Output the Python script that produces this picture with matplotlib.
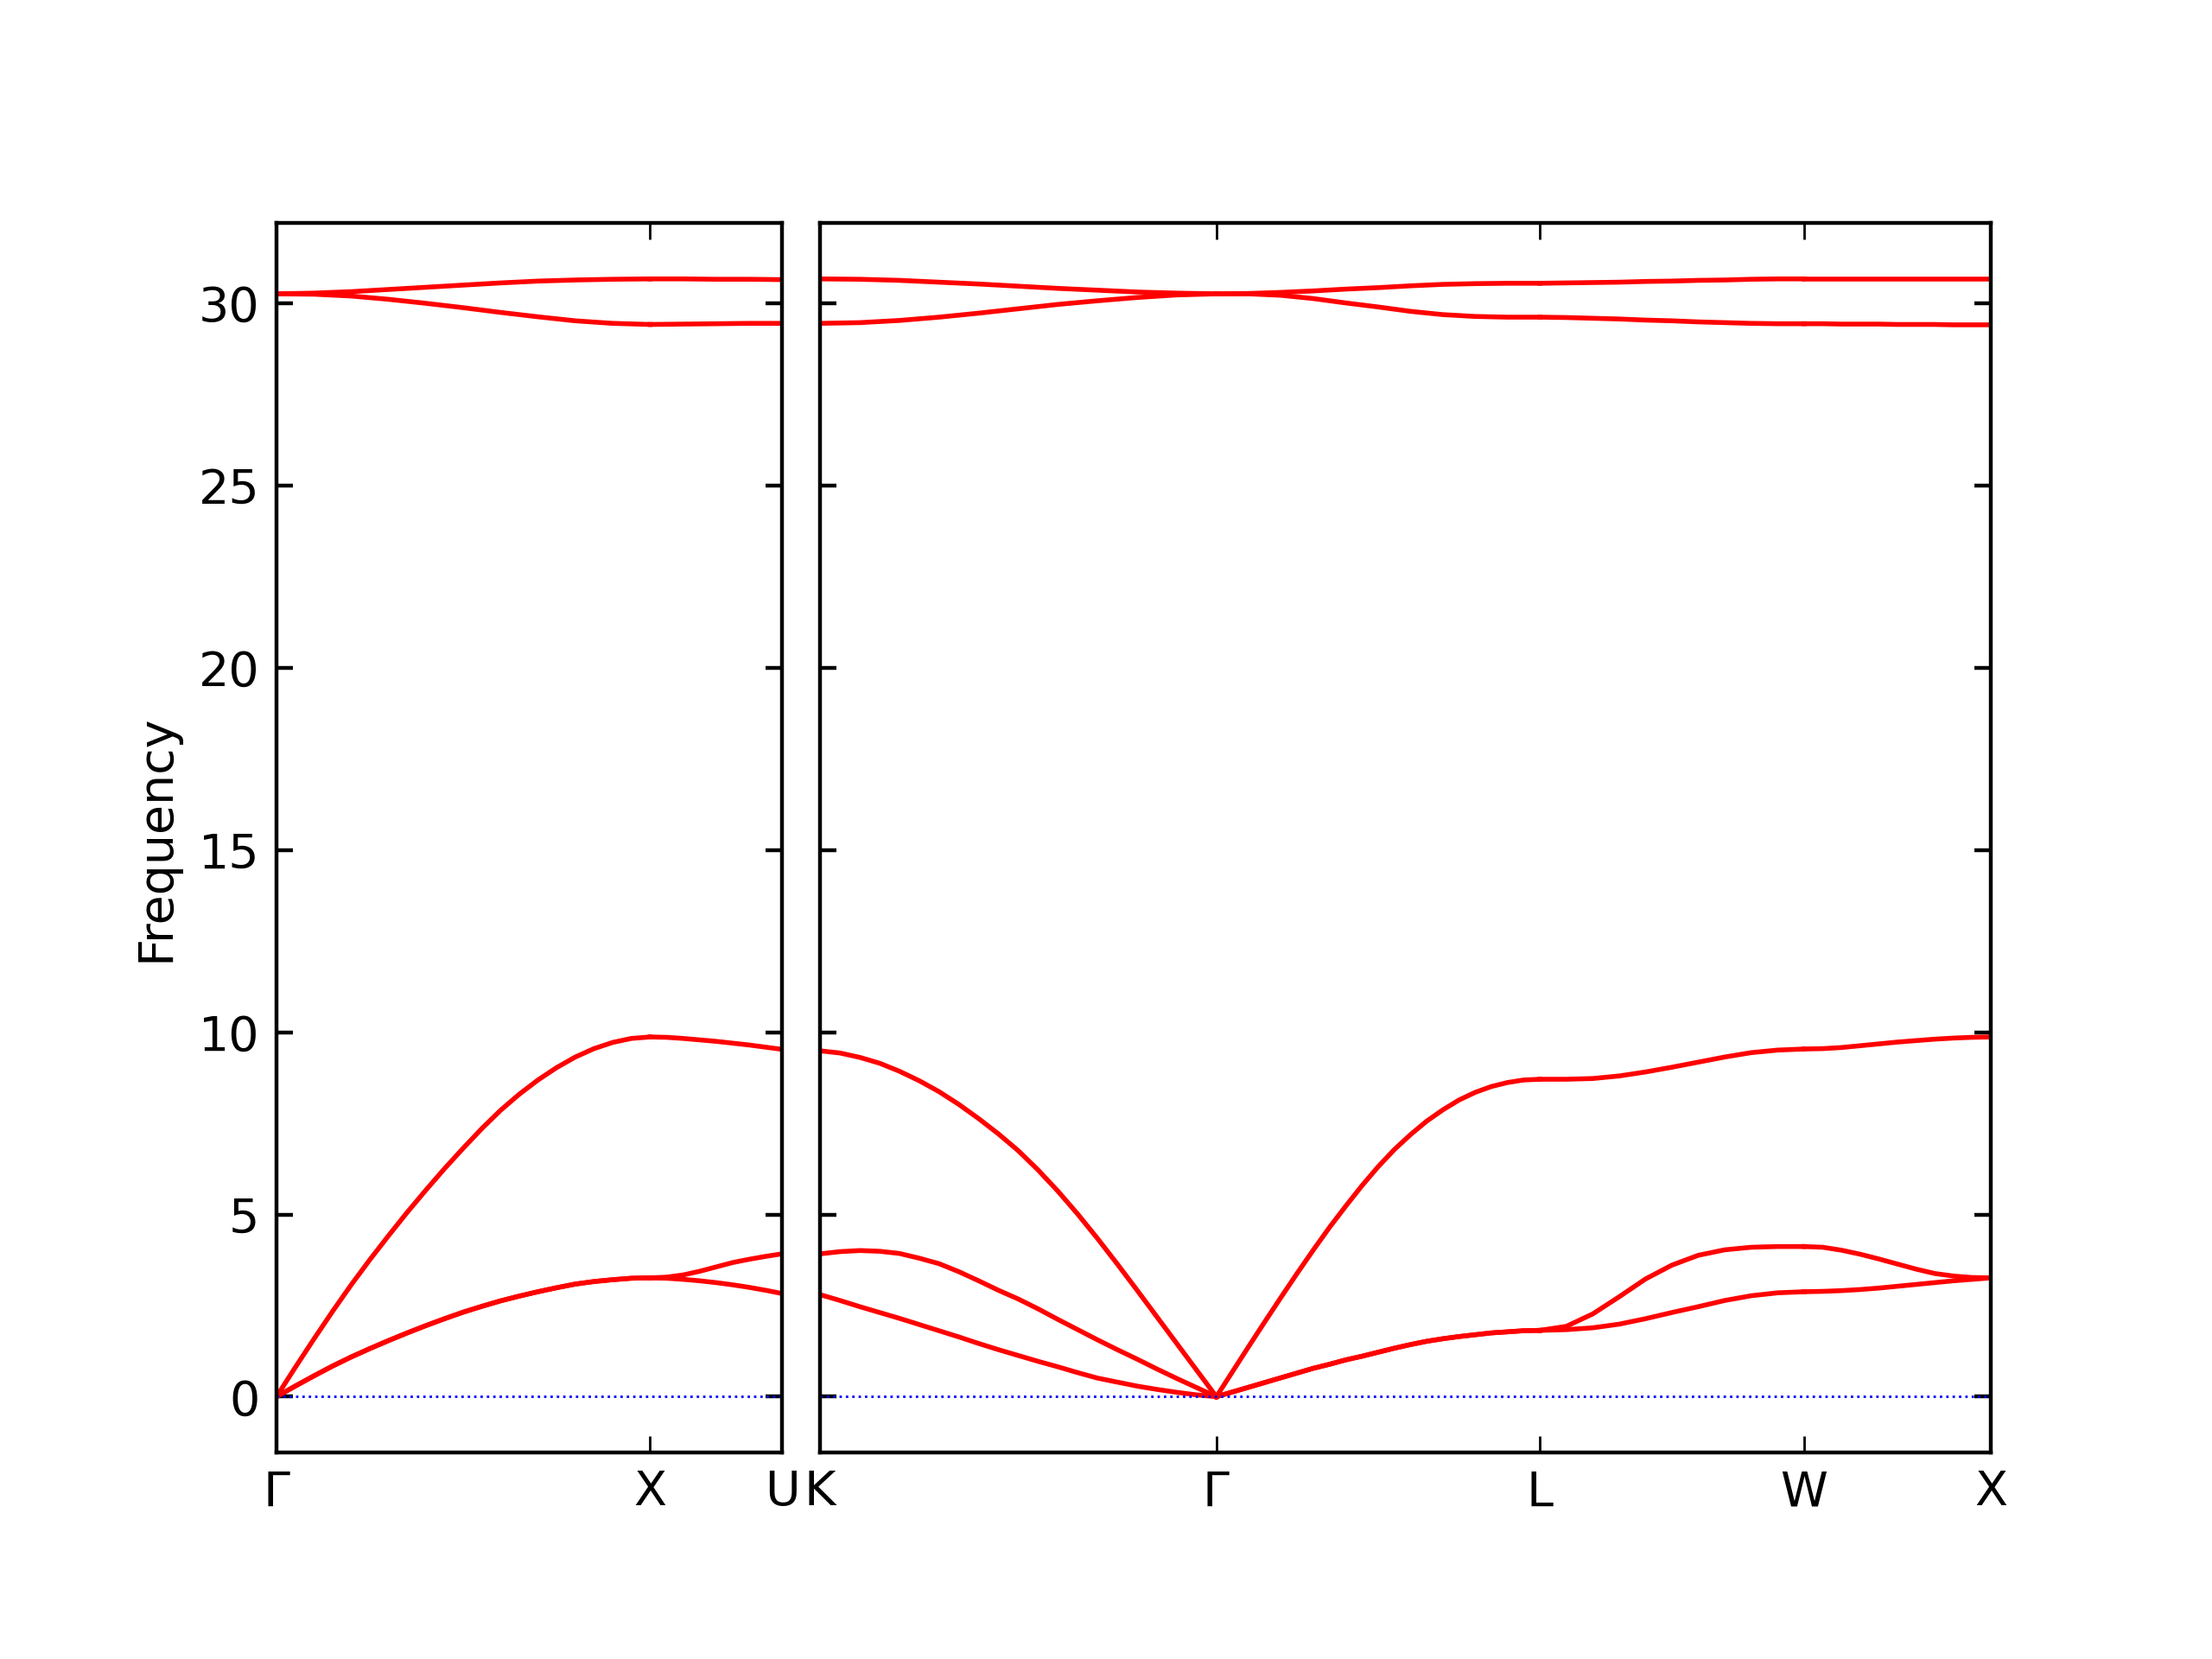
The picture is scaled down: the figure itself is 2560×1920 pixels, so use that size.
import numpy as np
import matplotlib.pyplot as plt

# k-path segment lengths: G-X, X-U | K-G, G-L, L-W, W-X
seg_len = [1.0, 0.3536, 1.0607, 0.8660, 0.7071, 0.5]
left_labels = ["$\\Gamma$", "X", "U"]
right_labels = ["K", "$\\Gamma$", "L", "W", "X"]

# G-X (21 pts)
gx_ta = [0, 0.29, 0.57, 0.84, 1.09, 1.32, 1.54, 1.75, 1.95, 2.14, 2.32,
         2.48, 2.63, 2.76, 2.88, 2.99, 3.09, 3.16, 3.21, 3.25, 3.26]
gx_la = [0, 0.80, 1.58, 2.34, 3.07, 3.76, 4.42, 5.06, 5.67, 6.26, 6.82,
         7.36, 7.86, 8.30, 8.69, 9.03, 9.32, 9.55, 9.72, 9.83, 9.87]
gx_to_lo = [30.26, 30.25, 30.20, 30.11, 30.00, 29.88, 29.75, 29.63, 29.52, 29.45, 29.42]
gx_to_hi = [30.26, 30.28, 30.32, 30.38, 30.44, 30.50, 30.56, 30.61, 30.64, 30.66, 30.67]

# X-U (9 pts)
xu_ta_lo = [3.26, 3.25, 3.22, 3.18, 3.13, 3.07, 3.00, 2.92, 2.83]
xu_ta_hi = [3.26, 3.28, 3.34, 3.44, 3.56, 3.68, 3.77, 3.85, 3.92]
xu_la = [9.87, 9.86, 9.83, 9.79, 9.75, 9.70, 9.65, 9.59, 9.53]
xu_to_lo = [29.42, 29.43, 29.44, 29.45, 29.45]
xu_to_hi = [30.67, 30.67, 30.66, 30.66, 30.65]

# K-G (21 pts)
kg_ta_lo = [2.80, 2.64, 2.47, 2.31, 2.15, 1.98, 1.81, 1.64, 1.46, 1.29, 1.13,
            0.97, 0.82, 0.66, 0.51, 0.40, 0.29, 0.20, 0.12, 0.05, 0]
kg_ta_hi = [3.92, 3.98, 4.01, 3.99, 3.93, 3.80, 3.65, 3.43, 3.18, 2.92, 2.68,
            2.41, 2.12, 1.84, 1.56, 1.29, 1.03, 0.76, 0.50, 0.25, 0]
kg_la = [9.49, 9.43, 9.31, 9.15, 8.93, 8.67, 8.37, 8.02, 7.63, 7.21, 6.75,
         6.22, 5.64, 5.01, 4.34, 3.64, 2.92, 2.19, 1.46, 0.73, 0]
kg_to_lo = [29.45, 29.47, 29.53, 29.62, 29.73, 29.85, 29.97, 30.07, 30.16, 30.23, 30.26]
kg_to_hi = [30.67, 30.66, 30.63, 30.58, 30.53, 30.47, 30.41, 30.36, 30.31, 30.28, 30.26]

# G-L (21 pts)
gl_ta = [0, 0.13, 0.26, 0.39, 0.52, 0.65, 0.78, 0.89, 1.01, 1.11, 1.22,
         1.33, 1.43, 1.52, 1.59, 1.65, 1.70, 1.75, 1.78, 1.81, 1.82]
gl_la = [0, 0.69, 1.38, 2.06, 2.73, 3.39, 4.03, 4.65, 5.23, 5.79, 6.31,
         6.78, 7.19, 7.56, 7.87, 8.14, 8.35, 8.51, 8.62, 8.69, 8.71]
gl_to_lo = [30.26, 30.26, 30.22, 30.13, 30.01, 29.90, 29.78, 29.69, 29.64, 29.62, 29.62]
gl_to_hi = [30.26, 30.27, 30.30, 30.34, 30.39, 30.43, 30.48, 30.52, 30.54, 30.55, 30.55]

# L-W (11 pts)
lw_ta_lo = [1.82, 1.84, 1.89, 1.99, 2.14, 2.31, 2.47, 2.64, 2.77, 2.85, 2.88]
lw_ta_hi = [1.82, 1.93, 2.27, 2.74, 3.23, 3.61, 3.88, 4.03, 4.10, 4.12, 4.12]
lw_la = [8.71, 8.71, 8.73, 8.80, 8.91, 9.04, 9.18, 9.32, 9.44, 9.51, 9.54]
lw_to_lo = [29.62, 29.61, 29.59, 29.57, 29.54, 29.52, 29.49, 29.47, 29.45, 29.44, 29.44]
lw_to_hi = [30.55, 30.56, 30.57, 30.58, 30.60, 30.61, 30.63, 30.64, 30.66, 30.67, 30.67]

# W-X (11 pts)
wx_ta_lo = [2.88, 2.89, 2.91, 2.94, 2.98, 3.03, 3.08, 3.13, 3.18, 3.22, 3.26]
wx_ta_hi = [4.12, 4.10, 4.02, 3.91, 3.78, 3.64, 3.50, 3.38, 3.31, 3.27, 3.26]
wx_la = [9.54, 9.55, 9.58, 9.63, 9.68, 9.73, 9.77, 9.81, 9.84, 9.86, 9.87]
wx_to_lo = [29.44, 29.44, 29.43, 29.43, 29.43, 29.42, 29.42, 29.42, 29.41, 29.41, 29.41]
wx_to_hi = [30.67, 30.67, 30.67, 30.67, 30.67, 30.67, 30.67, 30.67, 30.67, 30.67, 30.67]

left_segs = [
    [gx_ta, gx_ta, gx_la, gx_to_lo, gx_to_hi],
    [xu_ta_lo, xu_ta_hi, xu_la, xu_to_lo, xu_to_hi],
]
right_segs = [
    [kg_ta_lo, kg_ta_hi, kg_la, kg_to_lo, kg_to_hi],
    [gl_ta, gl_ta, gl_la, gl_to_lo, gl_to_hi],
    [lw_ta_lo, lw_ta_hi, lw_la, lw_to_lo, lw_to_hi],
    [wx_ta_lo, wx_ta_hi, wx_la, wx_to_lo, wx_to_hi],
]

fig = plt.figure(figsize=(6.4, 4.8), dpi=400)

left, right, bottom, top = 0.125, 0.9, 0.1245, 0.8655
pad = 0.11 / 6.4
len_l = sum(seg_len[:2])
len_r = sum(seg_len[2:])
w_all = right - left - pad
w_l = w_all * len_l / (len_l + len_r)
w_r = w_all * len_r / (len_l + len_r)

ax1 = fig.add_axes([left, bottom, w_l, top - bottom])
ax2 = fig.add_axes([left + w_l + pad, bottom, w_r, top - bottom])


def draw_panel(ax, segs, lengths, labels):
    start = 0.0
    ticks = [0.0]
    for bands, L in zip(segs, lengths):
        for b in bands:
            x = np.linspace(start, start + L, len(b))
            ax.plot(x, b, 'r-', linewidth=1.0)
        start += L
        ticks.append(start)
    ax.axhline(y=0, linestyle=':', linewidth=0.5, color='b')
    ax.set_xlim(0, start)
    ax.set_ylim(-1.53, 32.2)
    ax.set_xticks(ticks)
    ax.set_xticklabels(labels)
    ax.set_yticks([0, 5, 10, 15, 20, 25, 30])
    ax.tick_params(axis='x', direction='in', top=True, bottom=True, width=0.5, length=3.5)
    ax.tick_params(axis='y', direction='in', left=True, right=True)


draw_panel(ax1, left_segs, seg_len[:2], left_labels)
draw_panel(ax2, right_segs, seg_len[2:], right_labels)
ax2.set_yticklabels([])
ax1.set_ylabel("Frequency")

fig.savefig("out.png", dpi=400)
